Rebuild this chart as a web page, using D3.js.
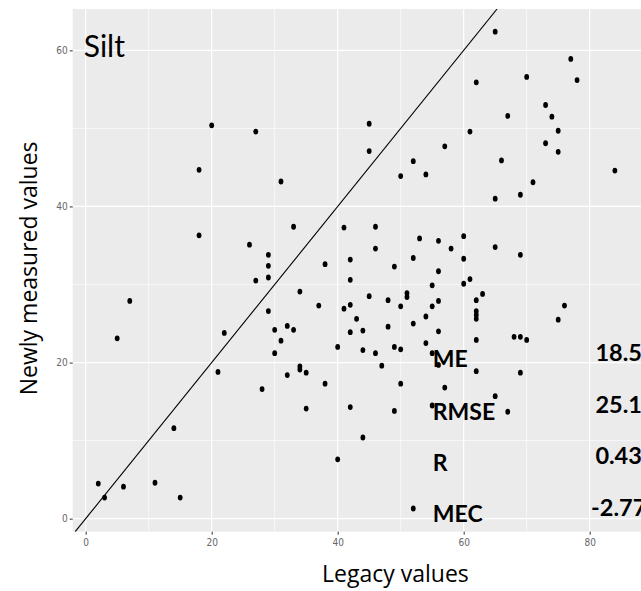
<!DOCTYPE html>
<html>
<head>
<meta charset="utf-8">
<script src="https://cdn.jsdelivr.net/npm/d3@7"></script>
<style>
  html, body { margin: 0; padding: 0; background: #ffffff; }
  svg { display: block; }
</style>
</head>
<body>
<svg id="chart" width="641" height="591"></svg>
<script>
// Legacy (x) vs newly measured (y) silt values
const legacy = [2,3,5,6,7,11,14,15,18,18,20,21,22,26,27,27,28,29,29,29,29,30,30,31,31,32,32,33,33,34,34,34,35,35,37,38,38,40,40,41,41,42,42,42,42,42,43,44,44,44,45,45,45,46,46,46,47,48,48,49,49,49,50,50,50,50,51,51,52,52,52,52,53,54,54,54,55,55,55,55,56,56,56,56,56,57,57,58,60,60,60,61,61,62,62,62,62,62,62,62,63,65,65,65,65,66,67,67,68,69,69,69,69,70,70,71,73,73,74,75,75,75,76,77,78,84];
const measured = [4.5,2.7,23.1,4.1,27.9,4.6,11.6,2.7,36.3,44.7,50.4,18.8,23.8,35.1,30.5,49.6,16.6,26.6,30.9,32.4,33.8,21.2,24.2,22.8,43.2,18.4,24.7,24.2,37.4,19.1,19.5,29.1,14.1,18.7,27.3,17.3,32.6,7.6,22.0,26.9,37.3,14.3,23.9,27.4,30.6,33.2,25.6,10.4,21.6,24.1,28.5,47.1,50.6,21.2,34.6,37.4,19.6,24.6,28.0,13.8,22.0,32.3,17.3,21.7,27.2,43.9,28.4,28.9,1.3,25.0,33.4,45.8,35.9,22.5,25.9,44.1,14.5,21.2,27.2,29.9,19.7,24.0,27.9,31.7,35.6,16.8,47.7,34.6,30.1,33.3,36.2,30.7,49.6,18.9,22.9,25.6,26.1,26.6,28.0,55.9,28.8,15.7,34.8,41.0,62.4,45.9,13.7,51.6,23.3,18.7,23.3,33.8,41.5,22.9,56.6,43.1,48.1,53.0,51.5,25.5,47.0,49.7,27.3,58.9,56.2,44.6];

const xTickValues = [0, 20, 40, 60, 80];
const yTickValues = [0, 20, 40, 60];
const xGridMajor = [0, 20, 40, 60, 80, 100];
const xMinorValues = [10, 30, 50, 70, 90];
const yMinorValues = [10, 30, 50];

const statNames = ["ME", "RMSE", "R", "MEC"];
const statValues = ["18.5", "25.1", "0.43", "-2.77"];

const panelTitle = "Silt";
const xTitle = "Legacy values";
const yTitle = "Newly measured values";

const points = legacy.map((d, i) => ({ x: d, y: measured[i] }));

const svg = d3.select("#chart");

// the plotting panel runs past the right edge of the canvas
const panel = { left: 72.7, top: 9, right: 718.2, bottom: 531.7 };

const x = d3.scaleLinear().domain([-2.06, 100.4]).range([panel.left, panel.right]);
const y = d3.scaleLinear().domain([-1.67, 65.3]).range([panel.bottom, panel.top]);

// panel background
svg.append("rect")
  .attr("x", panel.left).attr("y", panel.top)
  .attr("width", panel.right - panel.left)
  .attr("height", panel.bottom - panel.top)
  .attr("fill", "#ebebeb");

svg.append("clipPath").attr("id", "panel-clip")
  .append("rect")
  .attr("x", panel.left).attr("y", panel.top)
  .attr("width", panel.right - panel.left)
  .attr("height", panel.bottom - panel.top);

const grid = svg.append("g").attr("clip-path", "url(#panel-clip)");

// minor grid
grid.selectAll("line.xminor").data(xMinorValues).join("line")
  .attr("x1", d => x(d)).attr("x2", d => x(d))
  .attr("y1", panel.top).attr("y2", panel.bottom)
  .attr("stroke", "#ffffff").attr("stroke-width", 0.6);
grid.selectAll("line.yminor").data(yMinorValues).join("line")
  .attr("y1", d => y(d)).attr("y2", d => y(d))
  .attr("x1", panel.left).attr("x2", panel.right)
  .attr("stroke", "#ffffff").attr("stroke-width", 0.6);

// major grid
grid.selectAll("line.xmajor").data(xGridMajor).join("line")
  .attr("x1", d => x(d)).attr("x2", d => x(d))
  .attr("y1", panel.top).attr("y2", panel.bottom)
  .attr("stroke", "#ffffff").attr("stroke-width", 1.2);
grid.selectAll("line.ymajor").data(yTickValues).join("line")
  .attr("y1", d => y(d)).attr("y2", d => y(d))
  .attr("x1", panel.left).attr("x2", panel.right)
  .attr("stroke", "#ffffff").attr("stroke-width", 1.2);

// 1:1 line
const lo = Math.max(x.domain()[0], y.domain()[0]);
const hi = Math.min(x.domain()[1], y.domain()[1]);
grid.append("line")
  .attr("x1", x(lo)).attr("y1", y(lo))
  .attr("x2", x(hi)).attr("y2", y(hi))
  .attr("stroke", "#000000").attr("stroke-width", 1.1);

// points
grid.selectAll("ellipse.pt").data(points).join("ellipse")
  .attr("cx", d => x(d.x)).attr("cy", d => y(d.y))
  .attr("rx", 2.4).attr("ry", 2.9)
  .attr("fill", "#000000");

// axes
const tickFont = "'Liberation Sans Narrow', 'DejaVu Sans Condensed', 'Liberation Sans', sans-serif";

const xAxis = svg.append("g")
  .attr("transform", `translate(0,${panel.bottom})`)
  .call(d3.axisBottom(x).tickValues(xTickValues).tickSize(3).tickPadding(4));
const yAxis = svg.append("g")
  .attr("transform", `translate(${panel.left},0)`)
  .call(d3.axisLeft(y).tickValues(yTickValues).tickSize(3).tickPadding(2));

[xAxis, yAxis].forEach(g => {
  g.select(".domain").remove();
  g.selectAll(".tick line").attr("stroke", "#333333").attr("stroke-width", 1);
  g.selectAll(".tick text")
    .attr("fill", "#666666")
    .style("font-family", tickFont)
    .style("font-size", "10px");
});

// panel label
svg.append("text")
  .attr("x", x(-0.3)).attr("y", 56.7)
  .attr("font-family", "Lato, 'Open Sans', sans-serif")
  .attr("font-size", 30)
  .attr("fill", "#000000")
  .text(panelTitle);

// axis titles
svg.append("text")
  .attr("x", (panel.left + panel.right) / 2)
  .attr("y", 581.5)
  .attr("text-anchor", "middle")
  .attr("font-family", "'Open Sans', Lato, sans-serif")
  .attr("font-size", 23)
  .attr("fill", "#000000")
  .text(xTitle);

svg.append("text")
  .attr("transform", `translate(37,${(panel.top + panel.bottom) / 2 - 2}) rotate(-90)`)
  .attr("text-anchor", "middle")
  .attr("font-family", "'Open Sans', Lato, sans-serif")
  .attr("font-size", 23)
  .attr("fill", "#000000")
  .text(yTitle);

// statistics block
const statRowY = [19.4, 12.65, 6.17, -0.47];
const statValY = [20.2, 13.6, 7.0, 0.38];
const stats = svg.append("g").attr("font-family", "Lato, 'Open Sans', sans-serif")
  .attr("font-weight", 700).attr("fill", "#000000");

stats.selectAll("text.name").data(statNames).join("text")
  .attr("class", "name")
  .attr("x", x(55.1))
  .attr("y", (d, i) => y(statRowY[i]))
  .attr("font-size", 23)
  .text(d => d);

stats.selectAll("text.val").data(statValues).join("text")
  .attr("class", "val")
  .attr("x", x(84.6))
  .attr("y", (d, i) => y(statValY[i]))
  .attr("text-anchor", "middle")
  .attr("font-size", 23.5)
  .text(d => d);
</script>
</body>
</html>
